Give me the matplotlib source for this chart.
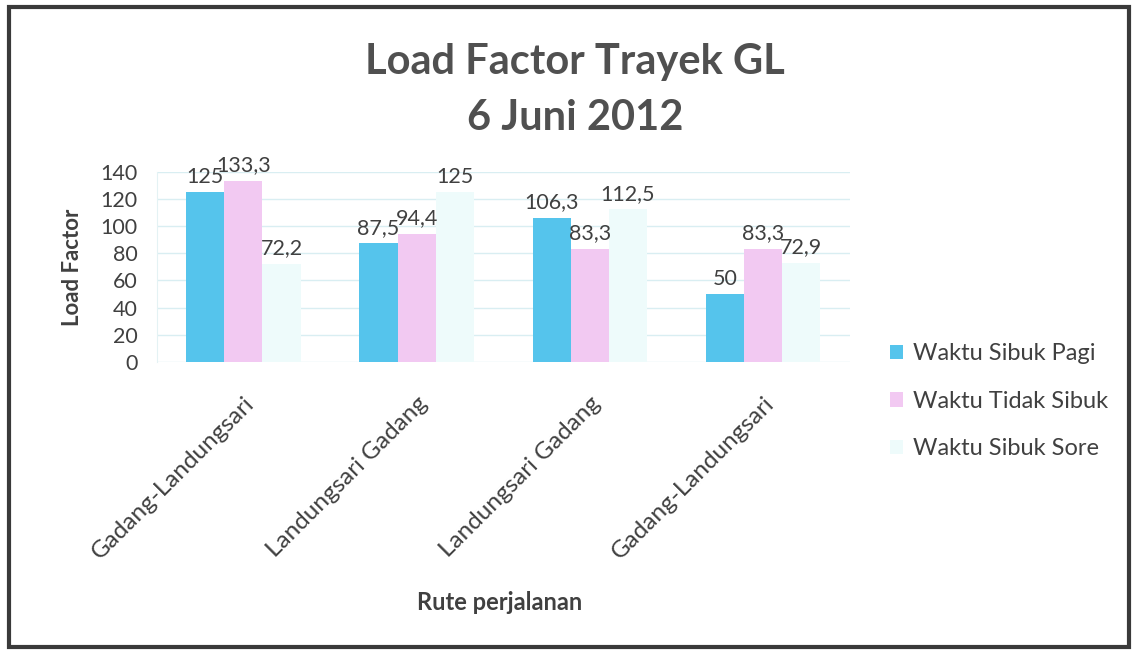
import matplotlib
matplotlib.use("Agg")
import matplotlib.pyplot as plt
import numpy as np
from matplotlib.patches import Rectangle

plt.rcParams['font.family'] = ['Lato', 'DejaVu Sans']

categories = ["Gadang-Landungsari", "Landungsari Gadang", "Landungsari Gadang", "Gadang-Landungsari"]
series_names = ["Waktu Sibuk Pagi", "Waktu Tidak Sibuk", "Waktu Sibuk Sore"]
pagi = [125, 87.5, 106.3, 50]
tidak = [133.3, 94.4, 83.3, 83.3]
sore = [72.2, 125, 112.5, 72.9]
yticks = [0, 20, 40, 60, 80, 100, 120, 140]

colors = ["#55c4ec", "#f2c9f2", "#eefbfb"]
text_color = "#404040"

fig = plt.figure(figsize=(11.36, 6.51), dpi=100)
ax = fig.add_axes([0.138, 0.444, 0.610, 0.292])

x = np.arange(len(categories))
w = 0.22
for i, (vals, c, name) in enumerate(zip([pagi, tidak, sore], colors, series_names)):
    pos = x + (i - 1) * w
    ax.bar(pos, vals, width=w, color=c, label=name, zorder=2)
    for p, v in zip(pos, vals):
        ax.text(p, v + 4, f"{v:g}".replace(".", ","), ha="center", va="bottom",
                fontsize=15.5, color=text_color, zorder=3)

ax.set_xlim(-0.5, len(categories) - 0.5)
ax.set_ylim(0, 140)
ax.set_yticks(yticks)
ax.set_yticklabels([str(t) for t in yticks], fontsize=15.5, color=text_color)
ax.grid(axis="y", color="#d9eef2", linewidth=1, zorder=0)
ax.set_xticks(x)
ax.set_xticklabels(categories, rotation=45, ha="right", rotation_mode="anchor",
                   fontsize=17.5, color=text_color)
ax.tick_params(axis="both", length=0)
ax.tick_params(axis="y", pad=14)
ax.tick_params(axis="x", pad=22)
for s in ["top", "right", "bottom"]:
    ax.spines[s].set_visible(False)
ax.spines["left"].set_color("#e4f2f4")

ax.set_ylabel("Load Factor", fontsize=16, fontweight="bold", color=text_color, labelpad=12)
fig.text(0.44, 0.075, "Rute perjalanan", ha="center", va="center", fontsize=17,
         fontweight="bold", color=text_color)

fig.text(0.506, 0.905, "Load Factor Trayek GL", ha="center", va="center",
         fontsize=30, fontweight="bold", color="#505050")
fig.text(0.506, 0.818, "6 Juni 2012", ha="center", va="center",
         fontsize=30, fontweight="bold", color="#505050")

leg = fig.legend(loc="upper left", bbox_to_anchor=(0.765, 0.505), frameon=False,
                 fontsize=17, handlelength=0.55, handleheight=0.55, labelspacing=1.12,
                 handletextpad=0.4)
for t in leg.get_texts():
    t.set_color(text_color)

fig.patches.append(Rectangle((0.008, 0.006), 0.986, 0.983, transform=fig.transFigure,
                             fill=False, edgecolor="#3a3a3a", linewidth=3))

fig.savefig("out.png", dpi=100)
